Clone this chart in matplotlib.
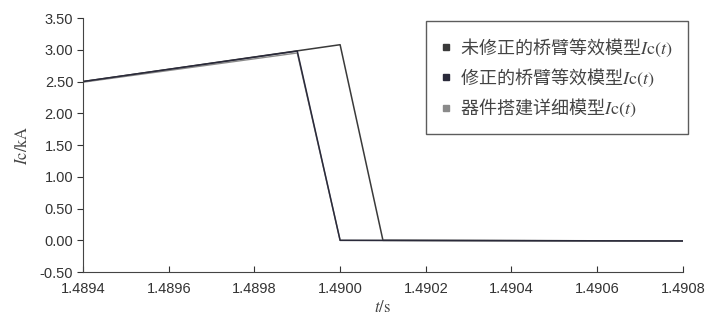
import matplotlib.pyplot as plt
from matplotlib.lines import Line2D

plt.rcParams['font.family'] = ['Liberation Sans', 'DejaVu Sans']
plt.rcParams['mathtext.fontset'] = 'stix'

# time points (s) and bridge-arm current (kA)
t_unmod = [1.4894, 1.4900, 1.4901, 1.4908]
ic_unmod = [2.50, 3.08, 0.00, -0.01]

t_mod = [1.4894, 1.4899, 1.4900, 1.4908]
ic_mod = [2.50, 2.98, 0.00, -0.01]

t_detail = [1.4894, 1.4899, 1.4900, 1.4908]
ic_detail = [2.49, 2.95, 0.00, -0.01]

labels = ['未修正的桥臂等效模型', '修正的桥臂等效模型', '器件搭建详细模型']
colors = ['#3a3a3a', '#2a2a3a', '#8a8a8a']

xticks = [1.4894, 1.4896, 1.4898, 1.4900, 1.4902, 1.4904, 1.4906, 1.4908]
yticks = [-0.5, 0.0, 0.5, 1.0, 1.5, 2.0, 2.5, 3.0, 3.5]

fig = plt.figure(figsize=(7.12, 3.22), dpi=100)
ax = fig.add_axes([0.1166, 0.155, 0.8425, 0.789])

ax.plot(t_unmod, ic_unmod, color=colors[0], lw=1.1)
ax.plot(t_detail, ic_detail, color=colors[2], lw=1.0)
ax.plot(t_mod, ic_mod, color=colors[1], lw=1.1)

ax.set_xlim(1.4894, 1.4908)
ax.set_ylim(-0.5, 3.5)
ax.set_xticks(xticks)
ax.set_xticklabels([f'{v:.4f}' for v in xticks])
ax.set_yticks(yticks)
ax.set_yticklabels([f'{v:.2f}' for v in yticks])
ax.tick_params(axis='x', direction='in', length=4, labelsize=10.5, colors='#333333', pad=7)
ax.tick_params(axis='y', direction='out', length=4, labelsize=10.5, colors='#333333', pad=3)
for s in ['top', 'right']:
    ax.spines[s].set_visible(False)
for s in ['left', 'bottom']:
    ax.spines[s].set_color('#444444')

ax.set_xlabel(r'$t$/s', fontsize=12, family='STIXGeneral', color='#444444', labelpad=3)
ax.set_ylabel(r'$I$c/kA', fontsize=12, family='STIXGeneral', color='#444444', labelpad=6)

handles = [Line2D([], [], ls='none', marker='s', ms=4.5, color=c) for c in colors]
leg_labels = [lab + r'$I\mathrm{c}(t)$' for lab in labels]
leg = ax.legend(handles, leg_labels, loc='upper right',
                bbox_to_anchor=(688 / 712, 1 - 21 / 322), bbox_transform=fig.transFigure,
                frameon=True, fancybox=False, edgecolor='#333333', handletextpad=0.45,
                handlelength=0.6, borderpad=0.85, borderaxespad=0, labelspacing=0.45,
                prop={'family': ['Noto Sans CJK SC', 'DejaVu Sans'], 'size': 13})
for txt in leg.get_texts():
    txt.set_color('#444444')
leg.get_frame().set_linewidth(1.0)

plt.savefig('out.png', dpi=100)
